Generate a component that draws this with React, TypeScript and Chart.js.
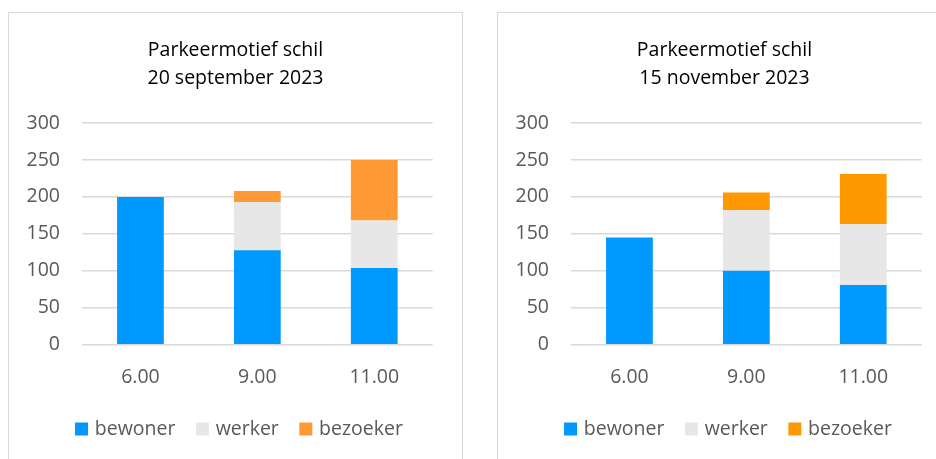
import React, { useEffect, useRef } from 'react';
import { Chart, registerables } from 'chart.js';

Chart.register(...registerables);

const categories = ['6.00', '9.00', '11.00'];
const seriesNames = ['bewoner', 'werker', 'bezoeker'];
const sepBewoner = [200, 128, 104];
const sepWerker = [null, 65, 64];
const sepBezoeker = [null, 15, 82];
const novBewoner = [145, 100, 81];
const novWerker = [null, 82, 82];
const novBezoeker = [null, 24, 68];
const sepTitle = ['Parkeermotief schil', '20 september 2023'];
const novTitle = ['Parkeermotief schil', '15 november 2023'];
const yMin = 0;
const yMax = 300;
const yStep = 50;

const FONT = "'Open Sans', 'Noto Sans', sans-serif";
const CW = 453;
const CH = 460;

const legendShift = {
  id: 'legendShift',
  afterLayout(chart: any) {
    const l = chart.legend;
    if (l) {
      l.left += 5;
      l.right += 5;
    }
  },
};

type Props = {
  title: string[];
  bew: (number | null)[];
  wer: (number | null)[];
  bez: (number | null)[];
  bezColor: string;
  left: number;
};

function ChartBox({ title, bew, wer, bez, bezColor, left }: Props) {
  const ref = useRef<HTMLCanvasElement | null>(null);
  useEffect(() => {
    if (!ref.current) return;
    const chart = new Chart(ref.current, {
      type: 'bar',
      data: {
        labels: categories,
        datasets: [
          { label: seriesNames[0], data: bew, backgroundColor: '#0099FF', borderWidth: 0 },
          { label: seriesNames[1], data: wer, backgroundColor: '#E7E7E7', borderWidth: 0 },
          { label: seriesNames[2], data: bez, backgroundColor: bezColor, borderWidth: 0 },
        ],
      },
      plugins: [legendShift],
      options: {
        responsive: false,
        animation: false,
        devicePixelRatio: 1,
        layout: { padding: { left: 0, right: 0, top: 0, bottom: 24.25 } },
        datasets: { bar: { categoryPercentage: 1, barPercentage: 0.4 } },
        plugins: {
          tooltip: { enabled: false },
          title: {
            display: true,
            text: title,
            color: '#000000',
            font: { family: FONT, size: 19.5, weight: 'normal', lineHeight: '28px' },
            padding: { top: 23.5, bottom: 30.5 },
          },
          legend: {
            display: true,
            position: 'bottom',
            labels: {
              usePointStyle: true,
              pointStyle: 'rect',
              boxWidth: 7,
              boxHeight: 13,
              padding: 23.5,
              color: '#595959',
              font: { family: FONT, size: 19.5 },
            },
          },
        },
        scales: {
          x: {
            stacked: true,
            grid: { display: false, drawTicks: false },
            border: { display: false },
            ticks: { color: '#595959', padding: 20.6, font: { family: FONT, size: 19.5 } },
            afterFit: (s: any) => { s.height = 51; },
          },
          y: {
            stacked: true,
            min: yMin,
            max: yMax,
            grid: { color: '#D9D9D9', lineWidth: 1.5, drawTicks: false },
            border: { display: false },
            ticks: { stepSize: yStep, color: '#595959', padding: 22, font: { family: FONT, size: 19.5 } },
            afterFit: (s: any) => { s.width = 73; },
          },
          yR: {
            position: 'right',
            display: true,
            min: yMin,
            max: yMax,
            grid: { display: false, drawTicks: false },
            border: { display: false },
            ticks: { display: false },
            afterFit: (s: any) => { s.width = 29.3; },
          },
        },
      },
    } as any);
    return () => chart.destroy();
  }, []);
  return (
    <div
      style={{
        position: 'absolute',
        left,
        top: 12,
        width: CW + 2,
        height: CH + 2,
        border: '1px solid #D9D9D9',
        boxSizing: 'border-box',
        background: '#fff',
      }}
    >
      <canvas ref={ref} width={CW} height={CH} style={{ display: 'block', width: CW, height: CH }} />
    </div>
  );
}

export default function App() {
  return (
    <div
      style={{
        position: 'absolute',
        left: 0,
        top: 0,
        width: 936,
        height: 459,
        overflow: 'hidden',
        background: '#fff',
      }}
    >
      <ChartBox title={sepTitle} bew={sepBewoner} wer={sepWerker} bez={sepBezoeker} bezColor="#FF9933" left={8} />
      <ChartBox title={novTitle} bew={novBewoner} wer={novWerker} bez={novBezoeker} bezColor="#FF9900" left={497} />
    </div>
  );
}
